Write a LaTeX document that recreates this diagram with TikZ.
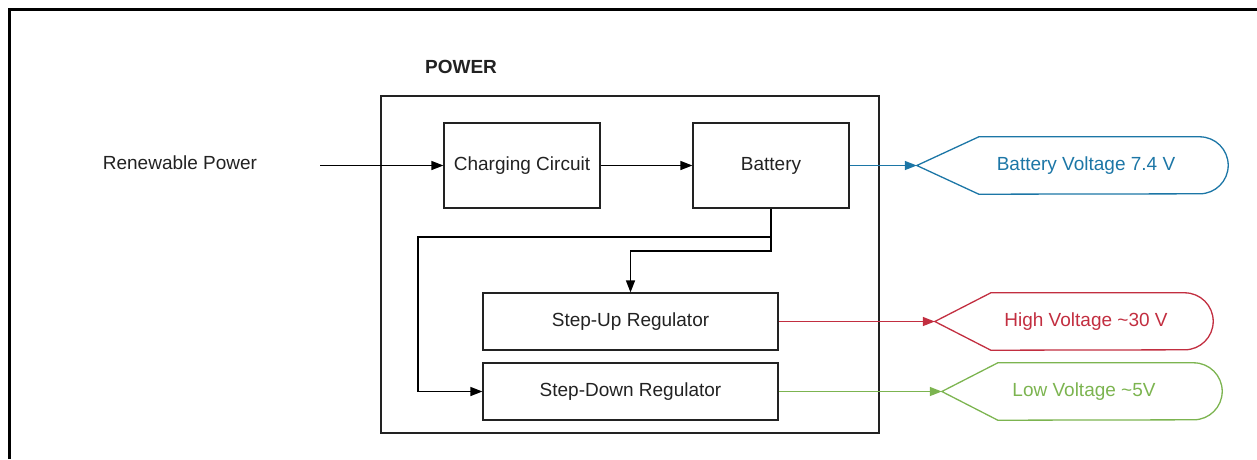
\documentclass[tikz,border=0pt]{standalone}
\usepackage{fontspec}
\setmainfont{Liberation Sans}
\usetikzlibrary{arrows.meta,calc}
\definecolor{ink}{RGB}{34,34,34}
\definecolor{sigblue}{RGB}{28,118,166}
\definecolor{sigred}{RGB}{194,46,64}
\definecolor{siggreen}{RGB}{124,180,80}
\tikzset{
  blk/.style={draw=ink, line width=1.2pt, inner sep=0pt, text=ink},
  arr/.style={draw=black, line width=1.3pt, -{Triangle[length=12pt,width=9pt]}},
  carr/.style={line width=1.4pt, -{Triangle[length=12pt,width=9pt]}},
  sigshape/.style={inner sep=0pt, minimum height=57pt},
  txt/.style={font=\fontsize{19}{22}\selectfont, text=ink}
}
\newcommand{\sigoutline}[3]{% node, color, corner offset
  \draw[#2, line width=1.3pt]
    (#1.west) -- ($(#1.north west)+(#3,0)$) -- ($(#1.north east)+(-28.5,0)$)
    arc[start angle=90, end angle=-90, radius=28.5pt]
    -- ($(#1.south west)+(#3,0)$) -- cycle;}
\newcommand{\tld}{\char"7E\relax}
\begin{document}
\begin{tikzpicture}[x=1pt,y=-1pt, every node/.style={font=\fontsize{19}{22}\selectfont}]
\useasboundingbox (0,0) rectangle (1257,459);
% outer frame (top and left edges)
\draw[line width=2.6pt, black] (9.5,459) -- (9.5,9.5) -- (1257,9.5);

\node[font=\fontsize{19}{22}\selectfont\bfseries, text=ink] (title) at (461,67) {POWER};
\node[blk, minimum width=498pt, minimum height=337pt] (power) at (630,264.5) {};

\node[txt] (renew) at (180,163) {Renewable Power};
\coordinate (in) at (320,165.5);

\node[blk, minimum width=156pt, minimum height=85pt] (charge) at (522,165.5) {Charging Circuit};
\node[blk, minimum width=156pt, minimum height=85pt] (batt) at (771,165.5) {Battery};
\node[blk, minimum width=295pt, minimum height=57pt] (up) at (630.5,321.5) {Step-Up Regulator};
\node[blk, minimum width=295pt, minimum height=57pt] (down) at (630.5,391.5) {Step-Down Regulator};

% signal shapes
\node[sigshape, minimum width=311pt] (bv) at (1072.5,165.5) {};
\sigoutline{bv}{sigblue}{62}
\node[text=sigblue] (bvt) at (1086,165.5) {Battery Voltage 7.4 V};

\node[sigshape, minimum width=278pt] (hv) at (1074,321.5) {};
\sigoutline{hv}{sigred}{56}
\node[text=sigred] (hvt) at (1086,321.5) {High Voltage \tld30 V};

\node[sigshape, minimum width=280pt] (lv) at (1082,391.5) {};
\sigoutline{lv}{siggreen}{56}
\node[text=siggreen] (lvt) at (1084,391.5) {Low Voltage \tld5V};

% connectors
\draw[arr] (in) -- (charge.west);
\draw[arr] (charge.east) -- (batt.west);
\coordinate (j) at (771,237);
\coordinate (jl) at (418,237);
\coordinate (jd) at (771,251);
\draw[line width=1.3pt] (batt.south) -- (j);
\draw[arr] (j) -- (jl) |- (down.west);
\draw[arr] (j) -- (jd) -| (up.north);

\draw[carr, sigblue] (batt.east) -- (bv.west);
\draw[carr, sigred] (up.east) -- (hv.west);
\draw[carr, siggreen] (down.east) -- (lv.west);
\end{tikzpicture}
\end{document}
